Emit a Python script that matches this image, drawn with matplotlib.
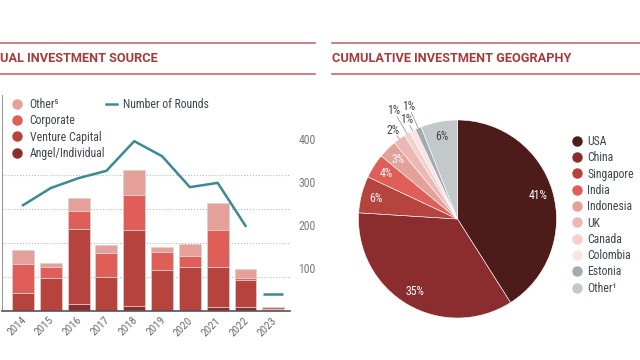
import matplotlib
matplotlib.use("Agg")
import matplotlib.pyplot as plt
from matplotlib import font_manager
from matplotlib.lines import Line2D
import matplotlib.transforms as mtrans
import numpy as np

installed = {f.name for f in font_manager.fontManager.ttflist}
narrow = [n for n in ["Roboto Condensed", "Liberation Sans Narrow"] if n in installed]
plt.rcParams["font.family"] = narrow + ["Roboto", "DejaVu Sans"]

# Annual investment source (stacked bars, left scale in gridline units)
years = ["2014", "2015", "2016", "2017", "2018", "2019", "2020", "2021", "2022", "2023"]
angel = [0.0, 0.0, 0.21, 0.0, 0.15, 0.0, 0.0, 0.12, 0.12, 0.03]
venture = [0.53, 0.97, 2.21, 1.00, 2.24, 1.21, 1.29, 1.18, 0.79, 0.04]
corporate = [0.85, 0.32, 0.53, 0.71, 1.03, 0.53, 0.32, 1.09, 0.06, 0.04]
other = [0.41, 0.12, 0.38, 0.24, 0.74, 0.15, 0.35, 0.79, 0.26, 0.0]
rounds = [246, 286, 309, 326, 395, 360, 288, 298, 198]
rounds_2023 = 40

# Cumulative investment geography
countries = ["USA", "China", "Singapore", "India", "Indonesia", "UK", "Canada",
             "Colombia", "Estonia", "Other\u00b9"]
shares = [41, 35, 6, 4, 3, 2, 1, 1, 1, 6]

bar_cols = {"Angel/Individual": "#8C2C2C", "Venture Capital": "#B6433E",
            "Corporate": "#DF5E57", "Other\u2075": "#E6A09A"}
pie_cols = ["#4E1B1B", "#8B2C2E", "#B5433E", "#DF5E57", "#E6A09A", "#EDB8B4",
            "#F4D0CD", "#F9E6E4", "#A4ABAD", "#C3C9CB"]
teal = "#3A8A92"
red = "#A53B3B"
txt = "#3B4650"

fig = plt.figure(figsize=(6.4, 3.6), dpi=100)

# headers
for x0, x1 in [(0, 315), (332, 640)]:
    for yy in (43, 74):
        fig.add_artist(Line2D([x0 / 640, x1 / 640], [1 - yy / 360] * 2,
                              transform=fig.transFigure, color="#C46B69", lw=1.2))
fig.text(0, 1 - 58 / 360, "UAL INVESTMENT SOURCE", color=red, fontsize=9.2,
         fontweight="bold", family=["Roboto", "DejaVu Sans"], va="center", ha="left")
fig.text(332 / 640, 1 - 58 / 360, "CUMULATIVE INVESTMENT GEOGRAPHY", color=red, fontsize=9.2,
         fontweight="bold", family=["Roboto", "DejaVu Sans"], va="center", ha="left")

# bars
ax = fig.add_axes([2 / 640, 1 - 311 / 360, 288 / 640, 216 / 360])
x = np.arange(len(years))
bottom = np.zeros(len(years))
for name, vals in [("Angel/Individual", angel), ("Venture Capital", venture),
                   ("Corporate", corporate), ("Other\u2075", other)]:
    ax.bar(x, vals, 0.79, bottom=bottom, color=bar_cols[name],
           edgecolor="#d4d4d4", linewidth=0.5, zorder=2)
    bottom += np.array(vals)
ax.set_xlim(-0.755, 9.6)
ax.set_ylim(0, 216 / 34)
ax.set_yticks([1, 2, 3, 4])
ax.set_yticklabels([])
ax.tick_params(axis="y", length=0)
ax.grid(axis="y", color="#b8b8b8", ls=":", lw=0.8, zorder=0)
ax.set_xticks(x)
ax.set_xticklabels(years, rotation=45, ha="right", fontsize=8, color="#6b6b6b")
ax.tick_params(axis="x", length=0, pad=3)
shift = mtrans.ScaledTranslation(5 / 100, 0, fig.dpi_scale_trans)
for lab in ax.get_xticklabels():
    lab.set_transform(lab.get_transform() + shift)
for s in ["top", "right"]:
    ax.spines[s].set_visible(False)
ax.spines["left"].set_color("#9a9a9a")
ax.spines["bottom"].set_color("#555555")
ax.spines["bottom"].set_linewidth(1.2)

ax2 = ax.twinx()
ax2.plot(x[:len(rounds)], rounds, color=teal, lw=1.8, zorder=3)
ax2.plot([x[-1]], [rounds_2023], marker="_", ms=15, mew=1.8, color=teal, ls="")
ax2.set_ylim(0, 216 / 43 * 100)
ax2.set_yticks([100, 200, 300, 400])
ax2.tick_params(axis="y", length=0, pad=6, labelsize=8.5, labelcolor="#7a7a7a")
for s in ax2.spines.values():
    s.set_visible(False)

h1 = [Line2D([], [], marker="o", ls="", ms=6.5, color=bar_cols[n])
      for n in ["Other\u2075", "Corporate", "Venture Capital", "Angel/Individual"]]
fig.legend(h1, ["Other\u2075", "Corporate", "Venture Capital", "Angel/Individual"],
           loc="upper left", bbox_to_anchor=(12 / 640, 1 - 98 / 360), frameon=False,
           fontsize=8.5, labelcolor=txt, handlelength=0.8, handletextpad=0.7,
           labelspacing=0.28, borderpad=0, borderaxespad=0)
fig.legend([Line2D([], [], color=teal, lw=1.8)], ["Number of Rounds"],
           loc="upper left", bbox_to_anchor=(106 / 640, 1 - 98 / 360), frameon=False,
           fontsize=8.5, labelcolor=txt, handlelength=0.9, handletextpad=0.5,
           borderpad=0, borderaxespad=0)

# pie
pax = fig.add_axes([357.5 / 640, 1 - 319 / 360, 200 / 640, 200 / 360])
wedges, _ = pax.pie(shares, colors=pie_cols, startangle=90, counterclock=False,
                    radius=0.99, wedgeprops=dict(edgecolor="white", linewidth=0.4))
pax.set_xlim(-1, 1)
pax.set_ylim(-1, 1)
pax.set_aspect("equal")
outer = {5: 1.1, 6: 1.26, 7: 1.12, 8: 1.23}
for i, (w, v) in enumerate(zip(wedges, shares)):
    ang = np.deg2rad((w.theta1 + w.theta2) / 2)
    ca, sa = np.cos(ang), np.sin(ang)
    if i in outer:
        d = outer[i]
        pax.plot([0.99 * ca, (d - 0.07) * ca], [0.99 * sa, (d - 0.07) * sa],
                 color="#8a8a8a", lw=0.5, clip_on=False)
        pax.text(d * ca, d * sa, f"{v}%", ha="center", va="center", fontsize=8.5,
                 color="#444444")
    else:
        col = "#444444" if i == 9 else "white"
        pax.text(0.84 * ca, 0.84 * sa, f"{v}%", ha="center", va="center", fontsize=8.5,
                 color=col)

h2 = [Line2D([], [], marker="o", ls="", ms=6.5, color=c) for c in pie_cols]
fig.legend(h2, countries, loc="upper left", bbox_to_anchor=(572 / 640, 1 - 135 / 360),
           frameon=False, fontsize=8.5, labelcolor=txt, handlelength=0.8,
           handletextpad=0.5, labelspacing=0.28, borderpad=0, borderaxespad=0)

fig.savefig("out.png", dpi=100)
